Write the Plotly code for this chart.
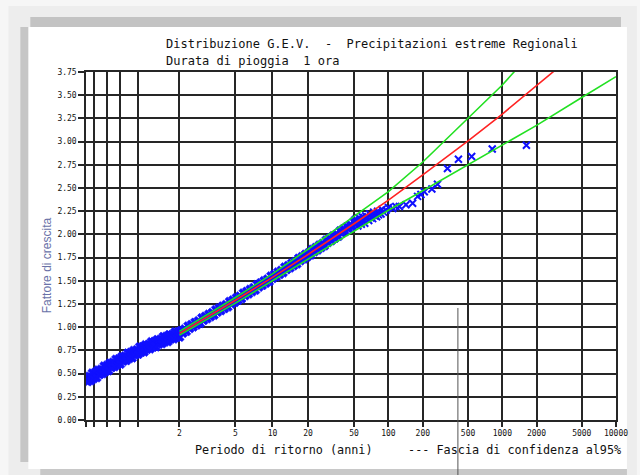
import math
import plotly.graph_objects as go

# ---------------- data ----------------
# return periods labelled on the Gumbel-paper x axis
T_ticks = [2, 5, 10, 20, 50, 100, 200, 500, 1000, 2000, 5000, 10000]
# extra (unlabelled) grid lines on the left, given as non-exceedance probability
F_left = [0.01, 0.02, 0.05, 0.1, 0.2]

# GEV growth curve and 95% confidence band, at the labelled return periods
T_curve = [2, 5, 10, 20, 50, 100, 200, 500, 1000, 2000, 5000, 10000]
gev_fit = [0.934, 1.290, 1.537, 1.783, 2.115, 2.370, 2.641, 3.008, 3.297, 3.596, 4.008, 4.331]
conf_up = [0.955, 1.320, 1.575, 1.840, 2.195, 2.460, 2.780, 3.250, 3.610, 4.020, 4.540, 4.960]
conf_lo = [0.915, 1.260, 1.500, 1.730, 2.030, 2.260, 2.470, 2.750, 2.960, 3.175, 3.475, 3.700]

# observed regional growth factors (Gumbel reduced variate of plotting position, value)
rv_low = [-1.52, -1.49, -1.46, -1.43, -1.40, -1.37, -1.34, -1.31, -1.28, -1.25,
          -1.22, -1.19, -1.16, -1.13, -1.10, -1.07, -1.04, -1.01, -0.98, -0.95,
          -0.92, -0.89, -0.86, -0.83, -0.80, -0.77, -0.74, -0.71, -0.68, -0.65,
          -0.62, -0.59, -0.56, -0.53, -0.50, -0.47, -0.44, -0.41, -0.38, -0.35,
          -0.32, -0.29, -0.26, -0.23, -0.20, -0.17, -0.14, -0.11, -0.08, -0.05,
          -0.02, 0.01, 0.04, 0.07, 0.10, 0.13, 0.16, 0.19, 0.22, 0.25,
          0.28, 0.31, 0.34, 0.37]
fc_low = [0.463, 0.413, 0.472, 0.422, 0.506, 0.446, 0.515, 0.455, 0.539, 0.489,
          0.548, 0.498, 0.582, 0.522, 0.590, 0.530, 0.614, 0.564, 0.623, 0.573,
          0.655, 0.595, 0.661, 0.601, 0.683, 0.633, 0.690, 0.640, 0.722, 0.662,
          0.729, 0.669, 0.750, 0.700, 0.757, 0.707, 0.788, 0.728, 0.792, 0.732,
          0.811, 0.761, 0.815, 0.765, 0.844, 0.784, 0.848, 0.788, 0.867, 0.817,
          0.871, 0.821, 0.900, 0.840, 0.903, 0.843, 0.920, 0.870, 0.923, 0.873,
          0.950, 0.890, 0.953, 0.893]

rv_mid = [0.40, 0.435, 0.47, 0.505, 0.54, 0.575, 0.61, 0.645, 0.68, 0.715,
          0.75, 0.785, 0.82, 0.855, 0.89, 0.925, 0.96, 0.995, 1.03, 1.065,
          1.10, 1.135, 1.17, 1.205, 1.24, 1.275, 1.31, 1.345, 1.38, 1.415,
          1.45, 1.485, 1.52, 1.555, 1.59, 1.625, 1.66, 1.695, 1.73, 1.765,
          1.80, 1.835, 1.87, 1.905, 1.94, 1.975, 2.01, 2.045, 2.08, 2.115,
          2.15, 2.185, 2.22, 2.255, 2.29, 2.325, 2.36, 2.395, 2.43, 2.465,
          2.50, 2.535, 2.57, 2.605, 2.64, 2.675, 2.71, 2.745, 2.78, 2.815,
          2.85, 2.885, 2.92, 2.955, 2.99, 3.025, 3.06, 3.095, 3.13, 3.165,
          3.20, 3.235, 3.27, 3.305, 3.34, 3.375, 3.41, 3.445, 3.48, 3.515,
          3.55, 3.585, 3.62, 3.655, 3.69, 3.725, 3.76, 3.795, 3.83, 3.865,
          3.90, 3.935]
fc_mid = [0.963, 0.935, 0.981, 0.953, 1.013, 0.985, 1.030, 1.002, 1.052, 1.024,
          1.069, 1.041, 1.101, 1.073, 1.118, 1.090, 1.140, 1.112, 1.157, 1.129,
          1.189, 1.161, 1.206, 1.178, 1.228, 1.200, 1.245, 1.217, 1.277, 1.249,
          1.294, 1.266, 1.317, 1.289, 1.335, 1.307, 1.368, 1.340, 1.386, 1.358,
          1.409, 1.381, 1.427, 1.399, 1.460, 1.432, 1.478, 1.450, 1.501, 1.473,
          1.519, 1.491, 1.552, 1.524, 1.571, 1.543, 1.595, 1.567, 1.614, 1.586,
          1.648, 1.620, 1.666, 1.638, 1.690, 1.662, 1.709, 1.681, 1.743, 1.715,
          1.762, 1.734, 1.786, 1.758, 1.805, 1.777, 1.840, 1.812, 1.860, 1.832,
          1.885, 1.857, 1.905, 1.877, 1.940, 1.912, 1.960, 1.932, 1.985, 1.957,
          2.005, 1.977, 2.040, 2.012, 2.060, 2.032, 2.085, 2.057, 2.105, 2.077,
          2.140, 2.112]

rv_top = [3.93, 3.95, 3.98, 4.00, 4.02, 4.05, 4.07, 4.09, 4.12, 4.14,
          4.16, 4.20, 4.22, 4.24, 4.28, 4.30, 4.32, 4.36, 4.38, 4.40,
          4.45, 4.47, 4.50, 4.552, 4.60, 4.687, 4.75, 4.822, 4.955, 5.090,
          5.191, 5.258, 5.326, 5.480, 5.594, 5.796, 6.018, 6.286, 6.703, 7.395]
fc_top = [2.16, 2.12, 2.09, 2.18, 2.14, 2.11, 2.19, 2.15, 2.12, 2.20,
          2.17, 2.15, 2.22, 2.18, 2.17, 2.24, 2.20, 2.19, 2.25, 2.21,
          2.22, 2.27, 2.24, 2.26, 2.29, 2.28, 2.30, 2.30, 2.32, 2.335,
          2.41, 2.43, 2.46, 2.49, 2.54, 2.71, 2.81, 2.84, 2.92, 2.96]

y_ticks = [i * 0.25 for i in range(16)]


# ---------------- helpers ----------------
def gumbel_T(T):
    return -math.log(-math.log(1.0 - 1.0 / T))


def gumbel_F(F):
    return -math.log(-math.log(F))


W, H = 640, 475
ML, MR, MT, MB = 86, 21, 72, 55
PW, PH = W - ML - MR, H - MT - MB


def px(x):
    return (x - ML) / PW


def py(y):
    return (H - MB - y) / PH


x_tickvals = [gumbel_F(f) for f in F_left] + [gumbel_T(t) for t in T_ticks]
x_ticktext = [""] * len(F_left) + [str(t) for t in T_ticks]
x_curve = [gumbel_T(t) for t in T_curve]

fig = go.Figure()

# dense cloud (filled x glyphs so that the band looks solid)
fig.add_trace(go.Scatter(
    x=rv_low + rv_mid, y=fc_low + fc_mid,
    mode="markers",
    marker=dict(symbol="x", size=8, color="#1010ff",
                line=dict(color="#1010ff", width=0.6)),
    cliponaxis=True, showlegend=False, hoverinfo="x+y"))
# sparse upper tail
fig.add_trace(go.Scatter(
    x=rv_top, y=fc_top,
    mode="markers",
    marker=dict(symbol="x-thin", size=7, color="#1010ff",
                line=dict(color="#1010ff", width=2)),
    cliponaxis=True, showlegend=False, hoverinfo="x+y"))

for vals, col in [(conf_up, "#22e022"), (conf_lo, "#22e022"), (gev_fit, "#ff2222")]:
    fig.add_trace(go.Scatter(
        x=x_curve, y=vals, mode="lines",
        line=dict(color=col, width=1.6),
        showlegend=False))

mono = "DejaVu Sans Mono"

fig.update_xaxes(
    range=[gumbel_F(0.01), gumbel_T(10000)],
    tickmode="array", tickvals=x_tickvals, ticktext=x_ticktext,
    showgrid=True, gridcolor="#262626", gridwidth=1.5,
    ticks="outside", ticklen=5, tickwidth=1.5, tickcolor="#262626",
    showline=True, linecolor="#262626", linewidth=1.5, mirror=True,
    zeroline=False, tickfont=dict(family=mono, size=8, color="#111"))
fig.update_yaxes(
    range=[0, 3.75], tickmode="array", tickvals=y_ticks,
    ticktext=["%.2f" % v for v in y_ticks],
    showgrid=True, gridcolor="#262626", gridwidth=1.5,
    ticks="outside", ticklen=6, tickwidth=1.5, tickcolor="#262626",
    showline=True, linecolor="#262626", linewidth=1.5, mirror=True,
    zeroline=False, tickfont=dict(family=mono, size=8, color="#111"))

# page / screenshot frame
shapes = [
    dict(type="rect", xref="paper", yref="paper", layer="below",
         x0=px(8), x1=px(640), y0=py(6), y1=py(475),
         fillcolor="#ededed", line=dict(width=0)),
    dict(type="rect", xref="paper", yref="paper", layer="below",
         x0=px(30), x1=px(624), y0=py(17), y1=py(27),
         fillcolor="#c3c3c3", line=dict(width=0)),
    dict(type="rect", xref="paper", yref="paper", layer="below",
         x0=px(20), x1=px(29), y0=py(27), y1=py(462),
         fillcolor="#c6c6c6", line=dict(width=0)),
    dict(type="rect", xref="paper", yref="paper", layer="below",
         x0=px(40), x1=px(630), y0=py(469), y1=py(475),
         fillcolor="#c8c8c8", line=dict(width=0)),
    dict(type="rect", xref="paper", yref="paper", layer="below",
         x0=px(28), x1=px(630), y0=py(27), y1=py(469),
         fillcolor="white", line=dict(width=0)),
    dict(type="line", xref="paper", yref="paper", layer="above",
         x0=px(460), x1=px(460), y0=py(308), y1=py(475),
         line=dict(color="#555555", width=1)),
]

annotations = [
    dict(text="Distribuzione G.E.V.  -  Precipitazioni estreme Regionali",
         x=px(164), y=py(44), xref="paper", yref="paper",
         xanchor="left", yanchor="middle", showarrow=False,
         font=dict(family=mono, size=12, color="#111")),
    dict(text="Durata di pioggia  1 ora",
         x=px(164), y=py(61), xref="paper", yref="paper",
         xanchor="left", yanchor="middle", showarrow=False,
         font=dict(family=mono, size=12, color="#111")),
    dict(text="Periodo di ritorno (anni)     --- Fascia di confidenza al95%",
         x=px(194), y=py(450), xref="paper", yref="paper",
         xanchor="left", yanchor="middle", showarrow=False,
         font=dict(family=mono, size=11.8, color="#111")),
    dict(text="Fattore di crescita",
         x=px(47), y=py(265), xref="paper", yref="paper",
         xanchor="center", yanchor="middle", textangle=-90, showarrow=False,
         font=dict(family="Liberation Sans", size=12, color="#6a72a8")),
]

fig.update_layout(
    width=W, height=H, autosize=False,
    margin=dict(l=ML, r=MR, t=MT, b=MB, pad=0),
    paper_bgcolor="#f6f6f6", plot_bgcolor="white",
    shapes=shapes, annotations=annotations, showlegend=False)

fig.write_html("out.html")
